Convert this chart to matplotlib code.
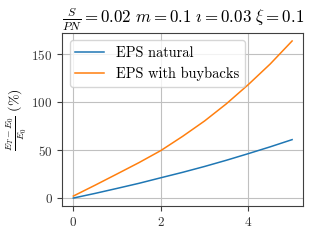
import matplotlib
matplotlib.use('Agg')
import matplotlib.pyplot as plt

# Valores (anos, variação do EPS em %)
anos = [0, 0.5, 1, 1.5, 2, 2.5, 3, 3.5, 4, 4.5, 5]
eps_natural = [0, 4.9, 10.1, 15.4, 21.2, 26.9, 33.0, 39.5, 46.4, 53.5, 61.0]
eps_buyback = [2.1, 13.5, 25.2, 37.0, 49.6, 64.5, 80.5, 98.5, 118.5, 140.0, 164.0]

plt.rcParams['font.family'] = 'serif'
plt.rcParams['font.serif'] = ['cmr10']
plt.rcParams['mathtext.fontset'] = 'cm'
plt.rcParams['axes.formatter.use_mathtext'] = True

fig, ax = plt.subplots(figsize=(3.2, 2.4), dpi=100)
ax.plot(anos, eps_natural, color='#1f77b4', lw=1.1, label='EPS natural')
ax.plot(anos, eps_buyback, color='#ff7f0e', lw=1.1, label='EPS with buybacks')

ax.grid(True, color='#c0c0c0', lw=0.8)
ax.set_axisbelow(True)
for s in ax.spines.values():
    s.set_color('#404040')
ax.tick_params(labelsize=9.5, length=3.5, color='#404040', labelcolor='#333333')
ax.set_xticks([0, 2, 4])
ax.set_yticks([0, 50, 100, 150])

ax.set_title(r'$\frac{S}{PN}=0.02\ m=0.1\ \imath=0.03\ \xi=0.1$', fontsize=12.2)
ax.set_ylabel(r'$\frac{E_T-E_0}{E_0}\ (\%)$', fontsize=10, labelpad=2)
ax.legend(loc='upper left', fontsize=10.4)

fig.subplots_adjust(left=0.195, right=0.947, top=0.862, bottom=0.142)
fig.savefig('out.png', dpi=100)
